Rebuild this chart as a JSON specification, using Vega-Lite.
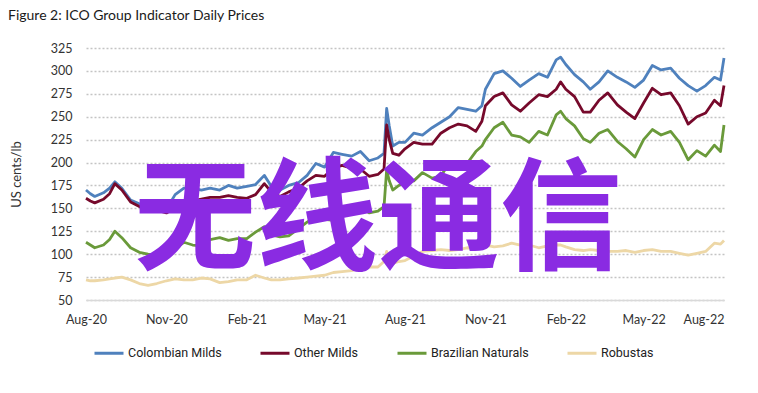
{
  "$schema": "https://vega.github.io/schema/vega-lite/v6.json",
  "width": 638,
  "height": 252,
  "autosize": {"type": "none"},
  "padding": {"left": 86, "top": 48, "right": 34, "bottom": 93},
  "background": "white",
  "title": {
    "text": "Figure 2: ICO Group Indicator Daily Prices",
    "anchor": "start",
    "frame": "group",
    "dx": -78,
    "offset": 19,
    "fontSize": 14,
    "font": "Lato",
    "fontWeight": "normal",
    "color": "#1a1a1a"
  },
  "config": {
    "view": {"stroke": null},
    "font": "Lato"
  },
  "layer": [
    {
      "data": {
        "values": [
          {"date": "2020-08-01", "Colombian Milds": 170, "Other Milds": 161, "Brazilian Naturals": 113, "Robustas": 72},
          {"date": "2020-08-06", "Colombian Milds": 166, "Other Milds": 158, "Brazilian Naturals": 110, "Robustas": 71},
          {"date": "2020-08-11", "Colombian Milds": 163, "Other Milds": 156, "Brazilian Naturals": 107, "Robustas": 71},
          {"date": "2020-08-21", "Colombian Milds": 167, "Other Milds": 160, "Brazilian Naturals": 110, "Robustas": 72},
          {"date": "2020-08-28", "Colombian Milds": 172, "Other Milds": 166, "Brazilian Naturals": 116, "Robustas": 73},
          {"date": "2020-09-03", "Colombian Milds": 179, "Other Milds": 177, "Brazilian Naturals": 125, "Robustas": 74},
          {"date": "2020-09-11", "Colombian Milds": 172, "Other Milds": 170, "Brazilian Naturals": 118, "Robustas": 75},
          {"date": "2020-09-21", "Colombian Milds": 159, "Other Milds": 157, "Brazilian Naturals": 107, "Robustas": 72},
          {"date": "2020-10-01", "Colombian Milds": 155, "Other Milds": 152, "Brazilian Naturals": 102, "Robustas": 68},
          {"date": "2020-10-11", "Colombian Milds": 153, "Other Milds": 150, "Brazilian Naturals": 100, "Robustas": 66},
          {"date": "2020-10-21", "Colombian Milds": 150, "Other Milds": 148, "Brazilian Naturals": 99, "Robustas": 68},
          {"date": "2020-11-01", "Colombian Milds": 149, "Other Milds": 145, "Brazilian Naturals": 99, "Robustas": 71},
          {"date": "2020-11-11", "Colombian Milds": 165, "Other Milds": 151, "Brazilian Naturals": 106, "Robustas": 73},
          {"date": "2020-11-21", "Colombian Milds": 172, "Other Milds": 157, "Brazilian Naturals": 113, "Robustas": 72},
          {"date": "2020-12-01", "Colombian Milds": 172, "Other Milds": 158, "Brazilian Naturals": 110, "Robustas": 72},
          {"date": "2020-12-11", "Colombian Milds": 170, "Other Milds": 160, "Brazilian Naturals": 109, "Robustas": 74},
          {"date": "2020-12-21", "Colombian Milds": 172, "Other Milds": 162, "Brazilian Naturals": 116, "Robustas": 73},
          {"date": "2021-01-01", "Colombian Milds": 170, "Other Milds": 162, "Brazilian Naturals": 118, "Robustas": 69},
          {"date": "2021-01-11", "Colombian Milds": 175, "Other Milds": 164, "Brazilian Naturals": 115, "Robustas": 70},
          {"date": "2021-01-21", "Colombian Milds": 172, "Other Milds": 162, "Brazilian Naturals": 117, "Robustas": 72},
          {"date": "2021-02-01", "Colombian Milds": 174, "Other Milds": 161, "Brazilian Naturals": 117, "Robustas": 72},
          {"date": "2021-02-11", "Colombian Milds": 176, "Other Milds": 165, "Brazilian Naturals": 124, "Robustas": 77},
          {"date": "2021-02-21", "Colombian Milds": 186, "Other Milds": 177, "Brazilian Naturals": 130, "Robustas": 74},
          {"date": "2021-03-01", "Colombian Milds": 174, "Other Milds": 168, "Brazilian Naturals": 121, "Robustas": 72},
          {"date": "2021-03-11", "Colombian Milds": 170, "Other Milds": 163, "Brazilian Naturals": 119, "Robustas": 72},
          {"date": "2021-03-21", "Colombian Milds": 175, "Other Milds": 168, "Brazilian Naturals": 120, "Robustas": 73},
          {"date": "2021-04-01", "Colombian Milds": 178, "Other Milds": 172, "Brazilian Naturals": 128, "Robustas": 74},
          {"date": "2021-04-11", "Colombian Milds": 186, "Other Milds": 180, "Brazilian Naturals": 135, "Robustas": 75},
          {"date": "2021-04-21", "Colombian Milds": 199, "Other Milds": 186, "Brazilian Naturals": 141, "Robustas": 76},
          {"date": "2021-05-01", "Colombian Milds": 195, "Other Milds": 185, "Brazilian Naturals": 138, "Robustas": 77},
          {"date": "2021-05-11", "Colombian Milds": 211, "Other Milds": 194, "Brazilian Naturals": 137, "Robustas": 80},
          {"date": "2021-05-21", "Colombian Milds": 209, "Other Milds": 197, "Brazilian Naturals": 145, "Robustas": 81},
          {"date": "2021-06-01", "Colombian Milds": 207, "Other Milds": 194, "Brazilian Naturals": 150, "Robustas": 82},
          {"date": "2021-06-11", "Colombian Milds": 212, "Other Milds": 193, "Brazilian Naturals": 152, "Robustas": 85},
          {"date": "2021-06-21", "Colombian Milds": 202, "Other Milds": 185, "Brazilian Naturals": 145, "Robustas": 86},
          {"date": "2021-07-01", "Colombian Milds": 205, "Other Milds": 187, "Brazilian Naturals": 147, "Robustas": 86},
          {"date": "2021-07-08", "Colombian Milds": 210, "Other Milds": 193, "Brazilian Naturals": 152, "Robustas": 92},
          {"date": "2021-07-11", "Colombian Milds": 259, "Other Milds": 241, "Brazilian Naturals": 192, "Robustas": 103},
          {"date": "2021-07-14", "Colombian Milds": 240, "Other Milds": 225, "Brazilian Naturals": 180, "Robustas": 95},
          {"date": "2021-07-18", "Colombian Milds": 218, "Other Milds": 210, "Brazilian Naturals": 170, "Robustas": 90},
          {"date": "2021-07-25", "Colombian Milds": 222, "Other Milds": 208, "Brazilian Naturals": 175, "Robustas": 92},
          {"date": "2021-08-01", "Colombian Milds": 222, "Other Milds": 215, "Brazilian Naturals": 178, "Robustas": 93},
          {"date": "2021-08-11", "Colombian Milds": 232, "Other Milds": 222, "Brazilian Naturals": 180, "Robustas": 98},
          {"date": "2021-08-21", "Colombian Milds": 230, "Other Milds": 220, "Brazilian Naturals": 189, "Robustas": 103},
          {"date": "2021-09-01", "Colombian Milds": 238, "Other Milds": 220, "Brazilian Naturals": 183, "Robustas": 104},
          {"date": "2021-09-11", "Colombian Milds": 244, "Other Milds": 232, "Brazilian Naturals": 185, "Robustas": 105},
          {"date": "2021-09-21", "Colombian Milds": 250, "Other Milds": 238, "Brazilian Naturals": 200, "Robustas": 104},
          {"date": "2021-10-01", "Colombian Milds": 260, "Other Milds": 242, "Brazilian Naturals": 198, "Robustas": 105},
          {"date": "2021-10-11", "Colombian Milds": 258, "Other Milds": 240, "Brazilian Naturals": 199, "Robustas": 107},
          {"date": "2021-10-21", "Colombian Milds": 256, "Other Milds": 234, "Brazilian Naturals": 212, "Robustas": 106},
          {"date": "2021-10-28", "Colombian Milds": 262, "Other Milds": 245, "Brazilian Naturals": 218, "Robustas": 108},
          {"date": "2021-11-01", "Colombian Milds": 280, "Other Milds": 262, "Brazilian Naturals": 225, "Robustas": 110},
          {"date": "2021-11-11", "Colombian Milds": 297, "Other Milds": 272, "Brazilian Naturals": 238, "Robustas": 108},
          {"date": "2021-11-21", "Colombian Milds": 300, "Other Milds": 276, "Brazilian Naturals": 244, "Robustas": 109},
          {"date": "2021-12-01", "Colombian Milds": 292, "Other Milds": 263, "Brazilian Naturals": 230, "Robustas": 112},
          {"date": "2021-12-11", "Colombian Milds": 283, "Other Milds": 256, "Brazilian Naturals": 228, "Robustas": 110},
          {"date": "2021-12-21", "Colombian Milds": 290, "Other Milds": 265, "Brazilian Naturals": 222, "Robustas": 110},
          {"date": "2022-01-01", "Colombian Milds": 297, "Other Milds": 274, "Brazilian Naturals": 234, "Robustas": 107},
          {"date": "2022-01-11", "Colombian Milds": 293, "Other Milds": 272, "Brazilian Naturals": 230, "Robustas": 109},
          {"date": "2022-01-21", "Colombian Milds": 312, "Other Milds": 280, "Brazilian Naturals": 252, "Robustas": 110},
          {"date": "2022-01-26", "Colombian Milds": 315, "Other Milds": 288, "Brazilian Naturals": 256, "Robustas": 110},
          {"date": "2022-02-01", "Colombian Milds": 307, "Other Milds": 280, "Brazilian Naturals": 248, "Robustas": 108},
          {"date": "2022-02-11", "Colombian Milds": 296, "Other Milds": 272, "Brazilian Naturals": 240, "Robustas": 105},
          {"date": "2022-02-21", "Colombian Milds": 288, "Other Milds": 255, "Brazilian Naturals": 226, "Robustas": 104},
          {"date": "2022-03-01", "Colombian Milds": 280, "Other Milds": 255, "Brazilian Naturals": 222, "Robustas": 105},
          {"date": "2022-03-11", "Colombian Milds": 288, "Other Milds": 268, "Brazilian Naturals": 232, "Robustas": 104},
          {"date": "2022-03-21", "Colombian Milds": 300, "Other Milds": 276, "Brazilian Naturals": 236, "Robustas": 103},
          {"date": "2022-04-01", "Colombian Milds": 293, "Other Milds": 263, "Brazilian Naturals": 223, "Robustas": 103},
          {"date": "2022-04-11", "Colombian Milds": 288, "Other Milds": 255, "Brazilian Naturals": 215, "Robustas": 104},
          {"date": "2022-04-21", "Colombian Milds": 282, "Other Milds": 248, "Brazilian Naturals": 206, "Robustas": 102},
          {"date": "2022-05-01", "Colombian Milds": 290, "Other Milds": 265, "Brazilian Naturals": 225, "Robustas": 104},
          {"date": "2022-05-11", "Colombian Milds": 306, "Other Milds": 281, "Brazilian Naturals": 236, "Robustas": 105},
          {"date": "2022-05-21", "Colombian Milds": 301, "Other Milds": 274, "Brazilian Naturals": 230, "Robustas": 103},
          {"date": "2022-06-01", "Colombian Milds": 303, "Other Milds": 276, "Brazilian Naturals": 234, "Robustas": 103},
          {"date": "2022-06-11", "Colombian Milds": 292, "Other Milds": 262, "Brazilian Naturals": 222, "Robustas": 101},
          {"date": "2022-06-21", "Colombian Milds": 284, "Other Milds": 242, "Brazilian Naturals": 203, "Robustas": 99},
          {"date": "2022-07-01", "Colombian Milds": 278, "Other Milds": 250, "Brazilian Naturals": 213, "Robustas": 101},
          {"date": "2022-07-11", "Colombian Milds": 284, "Other Milds": 254, "Brazilian Naturals": 207, "Robustas": 103},
          {"date": "2022-07-21", "Colombian Milds": 293, "Other Milds": 268, "Brazilian Naturals": 219, "Robustas": 112},
          {"date": "2022-07-28", "Colombian Milds": 290, "Other Milds": 262, "Brazilian Naturals": 212, "Robustas": 111},
          {"date": "2022-08-01", "Colombian Milds": 314, "Other Milds": 284, "Brazilian Naturals": 241, "Robustas": 115}
        ]
      },
      "transform": [
        {"fold": ["Colombian Milds", "Other Milds", "Brazilian Naturals", "Robustas"], "as": ["series", "price"]}
      ],
      "mark": {"type": "line", "strokeWidth": 2.8, "strokeJoin": "round"},
      "encoding": {
        "x": {
          "field": "date",
          "type": "temporal",
          "scale": {
            "type": "utc",
            "domain": [
              {"year": 2020, "month": 8, "date": 1, "utc": true},
              {"year": 2022, "month": 8, "date": 1, "utc": true}
            ]
          },
          "axis": {
            "title": null,
            "format": "%b-%y",
            "values": [
              {"year": 2020, "month": 8, "date": 1, "utc": true},
              {"year": 2020, "month": 11, "date": 1, "utc": true},
              {"year": 2021, "month": 2, "date": 1, "utc": true},
              {"year": 2021, "month": 5, "date": 1, "utc": true},
              {"year": 2021, "month": 8, "date": 1, "utc": true},
              {"year": 2021, "month": 11, "date": 1, "utc": true},
              {"year": 2022, "month": 2, "date": 1, "utc": true},
              {"year": 2022, "month": 5, "date": 1, "utc": true},
              {"year": 2022, "month": 8, "date": 1, "utc": true}
            ],
            "tickCount": 20,
            "grid": false,
            "ticks": false,
            "domain": true,
            "domainColor": "#d9d9d9",
            "domainWidth": 1.5,
            "labelPadding": 13,
            "labelFontSize": 12.5,
            "labelFont": "Lato",
            "labelColor": "#333333",
            "labelAlign": {
              "condition": {"test": "utcyear(datum.value) == 2022 && utcmonth(datum.value) == 7", "value": "right"},
              "value": "center"
            },
            "labelOverlap": false
          }
        },
        "y": {
          "field": "price",
          "type": "quantitative",
          "scale": {"domain": [50, 325], "nice": false, "zero": false},
          "axis": {
            "title": "US cents/lb",
            "titleFont": "Lato",
            "titleFontSize": 13,
            "titleFontWeight": "normal",
            "titleColor": "#333333",
            "titlePadding": 27,
            "values": [50, 75, 100, 125, 150, 175, 200, 225, 250, 275, 300, 325],
            "tickCount": 20,
            "grid": true,
            "gridDash": [2, 2],
            "gridColor": "#c4c4c4",
            "gridWidth": 1.5,
            "domain": false,
            "ticks": false,
            "labelPadding": 14,
            "labelFontSize": 12.5,
            "labelFont": "Lato",
            "labelColor": "#333333",
            "labelOverlap": false
          }
        },
        "color": {
          "field": "series",
          "type": "nominal",
          "scale": {
            "domain": ["Colombian Milds", "Other Milds", "Brazilian Naturals", "Robustas"],
            "range": ["#4f81bd", "#76092b", "#6a9a3a", "#edd7a6"]
          },
          "legend": {
            "title": null,
            "orient": "none",
            "legendX": 7,
            "legendY": 289,
            "direction": "horizontal",
            "columns": 4,
            "symbolType": "stroke",
            "symbolSize": 841,
            "symbolStrokeWidth": 3,
            "labelFont": "Roboto",
            "labelFontSize": 12.5,
            "labelColor": "#222222",
            "labelOffset": 3,
            "columnPadding": 32,
            "padding": 0
          }
        }
      }
    },
    {
      "data": {"values": [{"label": "无线通信", "date": "2021-07-01", "price": 134}]},
      "mark": {
        "type": "text",
        "font": "Noto Sans CJK SC",
        "fontWeight": "bold",
        "fontSize": 122,
        "color": "#8a2be2",
        "align": "center",
        "baseline": "middle"
      },
      "encoding": {
        "x": {"field": "date", "type": "temporal"},
        "y": {"field": "price", "type": "quantitative"},
        "text": {"field": "label"}
      }
    }
  ]
}
